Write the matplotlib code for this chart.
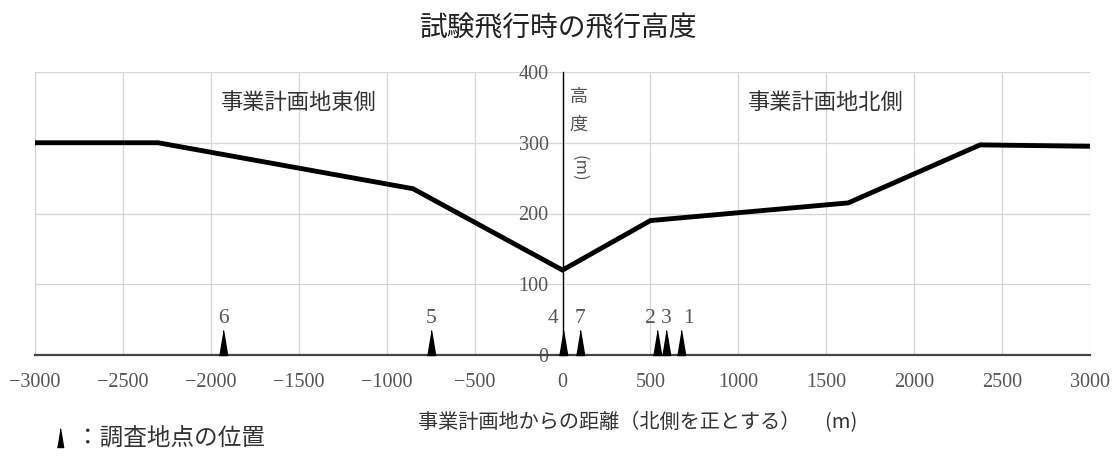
import matplotlib
matplotlib.use("Agg")
import matplotlib.pyplot as plt
from matplotlib.lines import Line2D

# flight altitude profile (m), distance from the site (north positive)
dist = [-3000, -2300, -850, 0, 500, 1625, 2375, 3000]
alt = [300, 300, 235, 120, 190, 215, 297, 295]

# survey points
site_names = ["1", "2", "3", "4", "5", "6", "7"]
site_x = [675, 540, 590, 0, -750, -1930, 100]

x_ticks = [-3000, -2500, -2000, -1500, -1000, -500, 0,
           500, 1000, 1500, 2000, 2500, 3000]
y_ticks = [0, 100, 200, 300, 400]

JP = "Noto Sans CJK JP"
GRAY = "#555555"


def main():
    plt.rcParams["font.family"] = ["Liberation Serif", JP]
    fig = plt.figure(figsize=(11.18, 4.66), dpi=100)
    ax = fig.add_axes([35 / 1118, 1 - 355 / 466, 1055 / 1118, 283 / 466])

    ax.set_xlim(-3000, 3000)
    ax.set_ylim(0, 400)
    ax.set_xticks(x_ticks)
    ax.set_yticks(y_ticks)
    ax.grid(True, color="#d4d4d4", linewidth=0.9)
    ax.set_axisbelow(True)

    for s in ["top", "right"]:
        ax.spines[s].set_visible(False)
    ax.spines["left"].set_position(("data", 0))
    ax.spines["left"].set_color("black")
    ax.spines["left"].set_linewidth(1.0)
    ax.spines["left"].set_zorder(4)
    ax.spines["bottom"].set_color("#444444")
    ax.spines["bottom"].set_linewidth(1.6)

    ax.tick_params(axis="x", length=0, pad=13, labelsize=14.5, labelcolor=GRAY)
    ax.tick_params(axis="y", length=0, pad=10, labelsize=14.5, labelcolor=GRAY)

    ax.plot(dist, alt, color="black", linewidth=3.5, solid_joinstyle="miter",
            zorder=3)

    tri = [(-1 / 3, 0), (1 / 3, 0), (0, 2)]
    ax.plot(site_x, [0] * len(site_x), linestyle="none", marker=tri,
            markersize=36, color="black", clip_on=False, zorder=5)

    offsets = {"4": -7, "2": -5, "1": 5}
    for name, x in zip(site_names, site_x):
        ax.annotate(name, (x, 0), xytext=(offsets.get(name, 0), 26),
                    textcoords="offset points", ha="center", va="center",
                    fontsize=15.5, color=GRAY)

    ax.text(-1500, 357, "事業計画地東側", family=JP, fontsize=16,
            color="#333333", ha="center", va="center")
    ax.text(1500, 357, "事業計画地北側", family=JP, fontsize=16,
            color="#333333", ha="center", va="center")

    ax.text(92, 365, "高", family=JP, fontsize=13, color=GRAY,
            ha="center", va="center")
    ax.text(92, 326, "度", family=JP, fontsize=13, color=GRAY,
            ha="center", va="center")
    ax.text(92, 264, "(m)", family=JP, fontsize=12, color=GRAY,
            ha="center", va="center", rotation=-90)

    fig.text(0.5, 1 - 29 / 466, "試験飛行時の飛行高度", family=JP,
             fontsize=20, ha="center", va="center", color="#222222")
    fig.text(638 / 1118, 1 - 423 / 466,
             "事業計画地からの距離（北側を正とする）　 (m)",
             family=JP, fontsize=14.5, ha="center", va="center",
             color="#333333")

    fig.add_artist(Line2D([60 / 1118], [1 - 447 / 466], marker=tri,
                          markersize=27, color="black", linestyle="none",
                          transform=fig.transFigure))
    fig.text(76 / 1118, 1 - 438 / 466, "：調査地点の位置", family=JP,
             fontsize=17, ha="left", va="center", color="#333333")

    fig.savefig("out.png", dpi=100)


if __name__ == "__main__":
    main()
